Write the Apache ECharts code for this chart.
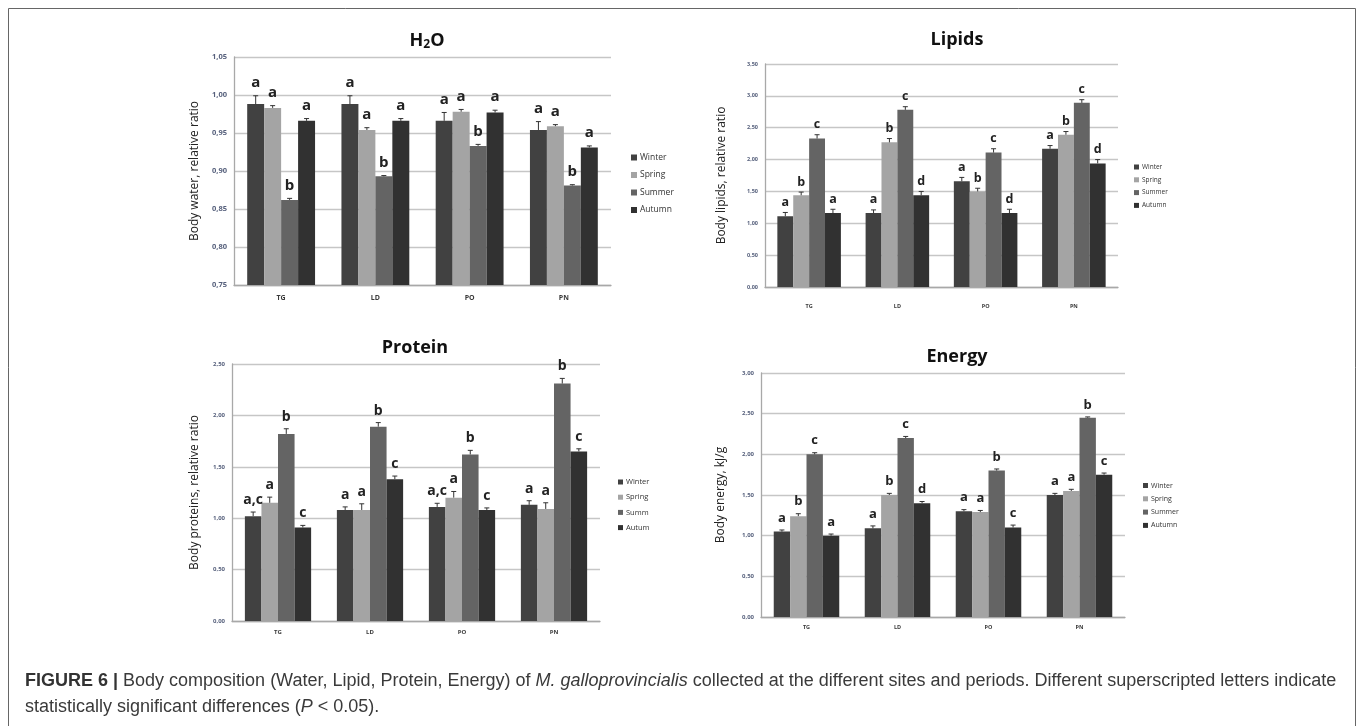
<!DOCTYPE html>
<html>
<head>
<meta charset="utf-8">
<script src="https://cdn.jsdelivr.net/npm/echarts@6/dist/echarts.min.js"></script>
<style>
html,body{margin:0;padding:0;background:#fff;}
#chart{width:1358px;height:726px;}
</style>
</head>
<body>
<div id="chart"></div>
<script>
// ---- data ----
const sites = ['TG', 'LD', 'PO', 'PN'];
const seasons = ['Winter', 'Spring', 'Summer', 'Autumn'];

// rows = seasons (Winter, Spring, Summer, Autumn), columns = sites (TG, LD, PO, PN)
const h2oMean = [[0.988, 0.988, 0.966, 0.954], [0.983, 0.954, 0.978, 0.959], [0.862, 0.893, 0.933, 0.881], [0.966, 0.966, 0.977, 0.931]];
const h2oErr  = [[0.011, 0.011, 0.011, 0.011], [0.003, 0.003, 0.003, 0.002], [0.002, 0.001, 0.002, 0.001], [0.003, 0.003, 0.003, 0.002]];
const h2oSig  = [['a', 'a', 'a', 'a'], ['a', 'a', 'a', 'a'], ['b', 'b', 'b', 'b'], ['a', 'a', 'a', 'a']];

const lipMean = [[1.11, 1.16, 1.66, 2.17], [1.44, 2.27, 1.50, 2.39], [2.33, 2.78, 2.11, 2.89], [1.16, 1.44, 1.16, 1.94]];
const lipErr  = [[0.06, 0.05, 0.06, 0.05], [0.05, 0.06, 0.05, 0.05], [0.06, 0.05, 0.06, 0.05], [0.06, 0.06, 0.06, 0.06]];
const lipSig  = [['a', 'a', 'a', 'a'], ['b', 'b', 'b', 'b'], ['c', 'c', 'c', 'c'], ['a', 'd', 'd', 'd']];

const protMean = [[1.02, 1.08, 1.11, 1.13], [1.15, 1.08, 1.20, 1.09], [1.82, 1.89, 1.62, 2.31], [0.91, 1.38, 1.08, 1.65]];
const protErr  = [[0.04, 0.03, 0.035, 0.04], [0.055, 0.06, 0.06, 0.06], [0.05, 0.04, 0.04, 0.05], [0.02, 0.03, 0.02, 0.025]];
const protSig  = [['a,c', 'a', 'a,c', 'a'], ['a', 'a', 'a', 'a'], ['b', 'b', 'b', 'b'], ['c', 'c', 'c', 'c']];

const enMean = [[1.05, 1.09, 1.30, 1.50], [1.24, 1.50, 1.29, 1.55], [2.00, 2.20, 1.80, 2.45], [1.00, 1.40, 1.10, 1.75]];
const enErr  = [[0.02, 0.03, 0.02, 0.02], [0.03, 0.02, 0.02, 0.02], [0.02, 0.02, 0.02, 0.01], [0.02, 0.02, 0.03, 0.02]];
const enSig  = [['a', 'a', 'a', 'a'], ['b', 'b', 'a', 'a'], ['c', 'c', 'b', 'b'], ['a', 'd', 'c', 'c']];

const yTitles = ['Body water, relative ratio', 'Body lipids, relative ratio', 'Body proteins, relative ratio', 'Body energy, kJ/g'];
const yRanges = [[0.75, 1.05, 0.05], [0, 3.5, 0.5], [0, 2.5, 0.5], [0, 3, 0.5]];

// ---- styling / layout ----
const colors = ['#414141', '#a4a4a4', '#646464', '#313131'];
const GAP = 0.28;
const panels = [
  {mean: h2oMean, err: h2oErr, sig: h2oSig, grid: {left: 234, top: 57, width: 377, height: 228},
   tick: 7.5, xl: 7, xm: 9, nameGap: 33, letter: 15, letterOff: 13,
   legend: {left: 626, top: 148, font: 8.5, gap: 8.5, icon: 6}},
  {mean: lipMean, err: lipErr, sig: lipSig, grid: {left: 765, top: 64, width: 353, height: 223},
   tick: 5.5, xl: 5.5, xm: 16, nameGap: 37, letter: 12.5, letterOff: 10,
   legend: {left: 1129, top: 158.5, font: 6.5, gap: 5.8, icon: 5}},
  {mean: protMean, err: protErr, sig: protSig, grid: {left: 232, top: 364, width: 368, height: 257},
   tick: 6, xl: 6, xm: 8, nameGap: 31, letter: 14, letterOff: 12,
   legend: {left: 613, top: 473, font: 7.5, gap: 7.2, icon: 5}},
  {mean: enMean, err: enErr, sig: enSig, grid: {left: 761, top: 373, width: 364, height: 244},
   tick: 6, xl: 5.5, xm: 7, nameGap: 34, letter: 13, letterOff: 12,
   legend: {left: 1138, top: 477, font: 7, gap: 6.3, icon: 5}}
];

const fmt = v => v.toFixed(2).replace('.', ',');

const grids = [], xAxes = [], yAxes = [], series = [], legends = [];
panels.forEach((p, pi) => {
  grids.push(Object.assign({containLabel: false}, p.grid));
  xAxes.push({
    type: 'category', gridIndex: pi, data: sites,
    axisLine: {lineStyle: {color: '#a8a8a8', width: 1.3}},
    axisTick: {show: false},
    axisLabel: {fontSize: p.xl, fontWeight: 'bold', color: '#3a3a3a', margin: p.xm, fontFamily: 'Open Sans'}
  });
  const r = yRanges[pi];
  yAxes.push({
    type: 'value', gridIndex: pi, min: r[0], max: r[1], interval: r[2],
    axisLine: {show: true, lineStyle: {color: '#a8a8a8', width: 1.3}},
    axisTick: {show: false},
    splitLine: {lineStyle: {color: '#c6c6c6', width: 1.3}},
    axisLabel: {fontSize: p.tick, fontWeight: 'bold', color: '#56607c', margin: 7, formatter: fmt, fontFamily: 'Open Sans'},
    name: yTitles[pi], nameLocation: 'middle', nameRotate: 90, nameGap: p.nameGap,
    nameTextStyle: {fontSize: 12, color: '#222', fontFamily: 'Open Sans'}
  });
  seasons.forEach((s, si) => {
    series.push({
      type: 'bar', name: s, xAxisIndex: pi, yAxisIndex: pi, data: p.mean[si],
      barGap: '0%', barCategoryGap: (GAP * 100) + '%',
      itemStyle: {color: colors[si]}, silent: true
    });
  });
  seasons.forEach((s, si) => {
    series.push({
      type: 'custom', name: s + ' error', xAxisIndex: pi, yAxisIndex: pi, silent: true, z: 5,
      data: p.mean[si].map((v, i) => [i, v, p.err[si][i]]),
      renderItem: function (params, api) {
        const ci = api.value(0), v = api.value(1), e = api.value(2);
        const catW = api.size([1, 0])[0];
        const bw = catW * (1 - GAP) / 4;
        const off = (si - 1.5) * bw;
        const p0 = api.coord([ci, v]);
        const p1 = api.coord([ci, v + e]);
        const x = p0[0] + off;
        return {
          type: 'group',
          children: [
            {type: 'line', shape: {x1: x, y1: p0[1], x2: x, y2: p1[1]}, style: {stroke: '#333', lineWidth: 1}},
            {type: 'line', shape: {x1: x - 2.5, y1: p1[1], x2: x + 2.5, y2: p1[1]}, style: {stroke: '#333', lineWidth: 1}},
            {type: 'text', x: x, y: p1[1] - p.letterOff,
             style: {text: p.sig[si][params.dataIndex], align: 'center', verticalAlign: 'middle',
                     font: 'bold ' + p.letter + 'px "Open Sans"', fill: '#222'}}
          ]
        };
      }
    });
  });
  legends.push({
    data: seasons, orient: 'vertical', left: p.legend.left, top: p.legend.top,
    icon: 'rect', itemWidth: p.legend.icon, itemHeight: p.legend.icon, itemGap: p.legend.gap,
    textStyle: {fontSize: p.legend.font, color: '#333', padding: [0, 0, 0, -2], fontFamily: 'Open Sans',
                width: pi === 2 ? 27.5 : null, overflow: pi === 2 ? 'truncate' : 'none', ellipsis: ''},
    selectedMode: false
  });
});

const titles = [
  {text: '{a|H}{s|2}{a|O}', left: 422, top: 26, textAlign: 'center',
   textStyle: {rich: {a: {fontSize: 18, fontWeight: 'bold', color: '#111', fontFamily: 'Open Sans'},
                      s: {fontSize: 12, fontWeight: 'bold', color: '#111', fontFamily: 'Open Sans', padding: [8, 0, 0, 0]}}}},
  {text: 'Lipids', left: 952, top: 26, textAlign: 'center'},
  {text: 'Protein', left: 410, top: 334, textAlign: 'center'},
  {text: 'Energy', left: 952, top: 343, textAlign: 'center'}
].map(t => Object.assign({textStyle: {fontSize: 18, fontWeight: 'bold', color: '#111', fontFamily: 'Open Sans'}}, t));

const capFont = 18;
const chart = echarts.init(document.getElementById('chart'), null, {renderer: 'canvas'});
chart.setOption({
  animation: false,
  backgroundColor: '#fff',
  title: titles,
  grid: grids,
  xAxis: xAxes,
  yAxis: yAxes,
  legend: legends,
  series: series,
  graphic: [
    {type: 'rect', shape: {x: 8.5, y: 8.5, width: 1347, height: 740}, style: {fill: 'none', stroke: '#666', lineWidth: 1}, silent: true},
    {type: 'text', left: 25, top: 672,
     style: {text: '{b|FIGURE 6 |} Body composition (Water, Lipid, Protein, Energy) of {i|M. galloprovincialis} collected at the different sites and periods. Different superscripted letters indicate',
             font: capFont + 'px "Liberation Sans"', fill: '#3a3a3a',
             rich: {b: {fontWeight: 'bold', fontSize: capFont, fontFamily: 'Liberation Sans', fill: '#333'},
                    i: {fontStyle: 'italic', fontSize: capFont, fontFamily: 'Liberation Sans', fill: '#3a3a3a'}}}},
    {type: 'text', left: 25, top: 698,
     style: {text: 'statistically significant differences ({i|P} < 0.05).',
             font: capFont + 'px "Liberation Sans"', fill: '#3a3a3a',
             rich: {i: {fontStyle: 'italic', fontSize: capFont, fontFamily: 'Liberation Sans', fill: '#3a3a3a'}}}}
  ]
});
</script>
</body>
</html>
